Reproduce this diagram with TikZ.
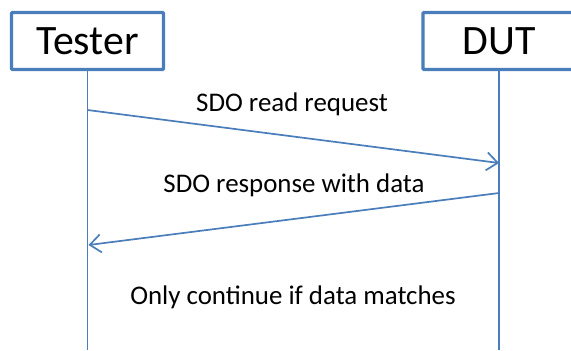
\documentclass[tikz,border=0pt]{standalone}
\usepackage{fontspec}
\setmainfont{Carlito}
\usetikzlibrary{arrows.meta}
\definecolor{lineblue}{HTML}{4A7EBB}
\begin{document}
\begin{tikzpicture}[x=1bp,y=-1bp,
  actor/.style={draw=lineblue,line width=3.2bp,minimum width=152bp,minimum height=57bp,inner sep=0pt,font=\fontsize{42}{46}\selectfont,fill=white,rounded corners=1bp},
  life/.style={draw=lineblue,line width=1.8bp},
  msg/.style={draw=lineblue,line width=1.7bp,-{Straight Barb[length=11bp,width=18bp,line width=1.7bp]}},
  lbl/.style={font=\fontsize{27}{31}\selectfont,inner sep=0pt}]
\useasboundingbox (0,0) rectangle (571,350);
\coordinate (tb) at (87.5,350);
\coordinate (db) at (499,350);
\draw[life] (87.5,40) -- (tb);
\draw[life] (499,40) -- (db);
\node[actor] (tester) at (87.5,41) {Tester};
\node[actor] (dut) at (499,41) {DUT};
\coordinate (a1s) at (87.5,110);
\coordinate (a1e) at (499,163);
\coordinate (a2s) at (499,193);
\coordinate (a2e) at (88.5,245);
\draw[msg] (a1s) -- (a1e);
\draw[msg] (a2s) -- (a2e);
\node[lbl] (l1) at (292,104) {SDO read request};
\node[lbl] (l2) at (294,185) {SDO response with data};
\node[lbl] (l3) at (293,297) {Only continue if data matches};
\end{tikzpicture}
\end{document}
